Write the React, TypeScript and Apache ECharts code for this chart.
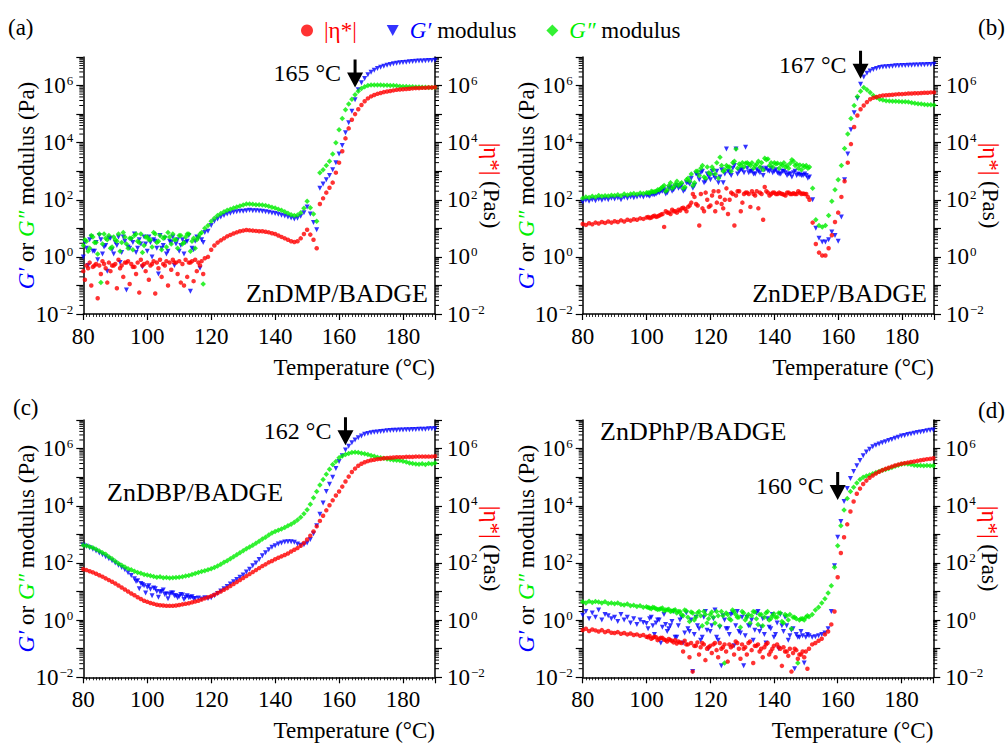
import React, { useEffect, useRef } from "react";
import * as echarts from "echarts";

// Temperatures (°C) of the read-off samples
const TEMP = [
  80, 81, 82, 83, 84, 85, 86, 87, 88, 89, 90, 91, 92, 93, 94, 95, 96, 97, 98, 99,
  100, 101, 102, 103, 104, 105, 106, 107, 108, 109, 110, 111, 112, 113, 114, 115, 116, 117, 118, 119,
  120, 121, 122, 123, 124, 125, 126, 127, 128, 129, 130, 131, 132, 133, 134, 135, 136, 137, 138, 139,
  140, 141, 142, 143, 144, 145, 146, 147, 148, 149, 150, 151, 152, 153, 154, 155, 156, 157, 158, 159,
  160, 161, 162, 163, 164, 165, 166, 167, 168, 169, 170, 171, 172, 173, 174, 175, 176, 177, 178, 179,
  180, 181, 182, 183, 184, 185, 186, 187, 188, 189, 190,
];
const TEMP_A_HALF = [
  80.5, 81.5, 82.5, 83.5, 84.5, 85.5, 86.5, 87.5, 88.5, 89.5, 90.5, 91.5, 92.5, 93.5, 94.5, 95.5, 96.5, 97.5, 98.5, 99.5,
  100.5, 101.5, 102.5, 103.5, 104.5, 105.5, 106.5, 107.5, 108.5, 109.5, 110.5, 111.5, 112.5, 113.5, 114.5, 115.5, 116.5, 117.5,
];
const TEMP_MID_HALF = [
  100.5, 101.5, 102.5, 103.5, 104.5, 105.5, 106.5, 107.5, 108.5, 109.5, 110.5, 111.5, 112.5, 113.5, 114.5, 115.5, 116.5, 117.5, 118.5, 119.5,
  120.5, 121.5, 122.5, 123.5, 124.5, 125.5, 126.5, 127.5, 128.5, 129.5, 130.5, 131.5, 132.5, 133.5, 134.5, 135.5, 136.5, 137.5, 138.5, 139.5,
  140.5, 141.5, 142.5, 143.5, 144.5, 145.5, 146.5, 147.5, 148.5, 149.5, 150.5,
];
const TEMP_C_HALF = [96.5, 97.5, 98.5, 99.5, 100.5, 101.5, 102.5, 103.5, 104.5, 105.5, 106.5, 107.5, 108.5, 109.5, 110.5, 111.5, 112.5, 113.5, 114.5];

// All values below are log10 of the plotted quantity (Pa or Pa·s)
// ---- (a) ZnDMP/BADGE
const A_GPP = [
  0.4, 0.55, 0.3, 0.7, 0.5, 0.8, 0.45, 0.65, 0.75, 0.35,
  0.6, 0.8, 0.5, 0.7, 0.3, 0.65, 0.75, 0.55, 0.8, 0.4,
  0.7, 0.6, 0.85, 0.5, 0.75, 0.65, 0.35, 0.7, 0.8, 0.6,
  0.75, 0.45, 0.7, 0.8, 0.55, 0.3, 0.7, 0.85, 1.0, 1.1,
  1.25, 1.35, 1.45, 1.52, 1.58, 1.63, 1.67, 1.71, 1.75, 1.78,
  1.82, 1.85, 1.85, 1.84, 1.83, 1.83, 1.82, 1.8, 1.77, 1.74,
  1.71, 1.67, 1.63, 1.58, 1.53, 1.48, 1.45, 1.47, 1.55, 1.7,
  1.95, 1.72, 1.5, 1.25, 2.95, 3.05, 3.2, 3.35, 3.6, 4.0,
  4.45, 4.85, 5.15, 5.35, 5.52, 5.68, 5.8, 5.9, 5.96, 6.0,
  6.02, 6.02, 6.02, 6.02, 6.01, 6.01, 6.0, 6.0, 5.99, 5.98,
  5.97, 5.97, 5.96, 5.96, 5.95, 5.95, 5.94, 5.94, 5.93, 5.93,
  5.93,
];
const A_GP = [
  0.0, 0.3, 0.6, 0.2, 0.5, 0.75, 0.1, 0.4, 0.65, 0.25,
  0.5, 0.7, 0.15, 0.55, 0.35, 0.6, 0.8, 0.3, 0.45, 0.7,
  0.2, 0.5, 0.6, 0.3, 0.75, 0.4, 0.1, 0.55, 0.7, 0.45,
  0.2, 0.6, 0.5, 0.75, 0.3, 0.55, 0.65, 0.6, 0.85, 0.9,
  1.1, 1.25, 1.33, 1.4, 1.45, 1.5, 1.53, 1.56, 1.58, 1.6,
  1.6, 1.62, 1.63, 1.62, 1.62, 1.61, 1.6, 1.58, 1.56, 1.54,
  1.52, 1.49, 1.46, 1.43, 1.4, 1.36, 1.33, 1.35, 1.42, 1.55,
  1.75, 1.5, 1.2, 0.95, 2.4, 2.55, 2.7, 2.85, 3.05, 3.3,
  3.6, 3.9, 4.35, 4.7, 5.1, 5.5, 5.85, 6.1, 6.25, 6.38,
  6.47, 6.54, 6.6, 6.64, 6.68, 6.71, 6.74, 6.76, 6.78, 6.8,
  6.81, 6.82, 6.83, 6.84, 6.85, 6.86, 6.86, 6.87, 6.88, 6.88,
  6.89,
];
const A_ETA = [
  -0.5, -0.3, -0.2, -0.35, -0.25, -0.3, -0.15, -0.4, -0.2, -0.3,
  -0.25, -0.1, -0.3, -0.2, -0.15, -0.25, -0.35, -0.2, -0.1, -0.25,
  -0.2, -0.3, -0.15, -0.2, -0.1, -0.25, -0.15, -0.2, -0.1, -0.2,
  -0.15, -0.25, -0.1, -0.2, -0.15, -0.1, -0.2, -0.15, -0.05, 0.0,
  0.25, 0.4, 0.5, 0.58, 0.65, 0.72, 0.77, 0.82, 0.86, 0.9,
  0.92, 0.94, 0.93, 0.92, 0.91, 0.9, 0.9, 0.88, 0.86, 0.83,
  0.8, 0.75, 0.7, 0.65, 0.6, 0.55, 0.52, 0.55, 0.65, 0.8,
  0.95, 0.78, 0.6, 0.3, 1.85, 2.05, 2.25, 2.42, 2.6, 2.95,
  3.3, 3.7, 4.15, 4.5, 4.8, 5.0, 5.17, 5.32, 5.45, 5.55,
  5.62, 5.67, 5.71, 5.74, 5.77, 5.79, 5.81, 5.83, 5.85, 5.86,
  5.87, 5.88, 5.89, 5.9, 5.91, 5.91, 5.92, 5.92, 5.93, 5.93,
  5.94,
];
const A_GPP_HALF = [
  0.6, 0.2, 0.75, 0.5, 0.1, -0.9, 0.8, 0.6, 0.3, 0.7,
  0.55, 0.2, 0.85, 0.45, 0.65, 0.25, 0.8, 0.5, 0.15, 0.7,
  0.6, 0.35, 0.8, 0.55, 0.25, 0.7, 0.85, 0.45, 0.6, 0.3,
  0.75, 0.5, 0.8, 0.2, 0.65, 0.6, 0.8, -0.95,
];
const A_GP_HALF = [
  0.5, -0.3, 0.7, 0.2, -0.1, 0.6, 0.35, -0.5, 0.65, 0.1,
  0.4, -0.2, 0.7, -1.16, 0.3, 0.5, 0.15, 0.6, -0.35, 0.45,
  0.7, 0.0, 0.55, -0.6, 0.3, 0.65, 0.2, 0.5, -0.3, 0.6,
  0.4, 0.1, 0.55, -1.2, 0.25, 0.7, -0.4, 0.5,
];
const A_ETA_HALF = [
  -0.8, -0.4, -1.0, -0.3, -1.45, -0.6, -0.25, -0.9, -0.5, -0.3,
  -1.1, -0.4, -0.7, -0.2, -0.95, -0.35, -0.6, -1.25, -0.3, -0.5,
  -0.8, -0.25, -1.28, -0.4, -0.7, -0.3, -1.0, -0.45, -0.2, -0.6,
  -0.9, -1.0, -0.7, -0.2, -0.85, -0.5, -0.3, -0.6,
];

// ---- (b) ZnDEP/BADGE
const B_GPP = [
  2.05, 2.1, 2.08, 2.12, 2.1, 2.15, 2.12, 2.14, 2.13, 2.16,
  2.15, 2.18, 2.14, 2.2, 2.17, 2.2, 2.22, 2.19, 2.24, 2.22,
  2.25, 2.23, 2.28, 2.3, 2.35, 2.45, 2.3, 2.5, 2.4, 2.55,
  2.5, 2.6, 2.45, 2.75, 2.9, 2.6, 3.0, 3.1, 2.8, 3.15,
  2.9, 3.05, 3.3, 3.49, 3.0, 3.2, 3.15, 3.3, 3.78, 3.25,
  3.3, 3.28, 3.25, 3.3, 3.2, 3.35, 3.3, 3.45, 3.43, 3.3,
  3.3, 3.28, 3.25, 3.3, 3.2, 3.28, 3.35, 3.25, 3.22, 3.2,
  3.2, 3.15, 2.4, 1.3, 1.1, 1.05, 1.1, 1.45, 1.95, 2.35,
  2.7, 3.2, 3.8, 4.3, 4.85, 5.3, 5.62, 5.8, 5.93, 5.85,
  5.76, 5.65, 5.58, 5.52, 5.49, 5.47, 5.46, 5.45, 5.45, 5.44,
  5.43, 5.43, 5.42, 5.4, 5.38, 5.36, 5.35, 5.34, 5.33, 5.33,
  5.32,
];
const B_GP = [
  1.92, 1.98, 1.95, 2.0, 1.97, 2.02, 1.98, 2.03, 2.0, 2.05,
  2.03, 2.06, 2.0, 2.08, 2.05, 2.1, 2.07, 2.1, 2.12, 2.1,
  2.15, 2.12, 2.18, 2.2, 2.25, 2.3, 2.2, 2.4, 2.3, 2.45,
  2.4, 2.5, 2.35, 2.6, 2.75, 2.5, 2.85, 2.95, 2.6, 2.9,
  2.7, 2.85, 3.0, 2.8, 2.6, 3.78, 2.95, 3.1, 3.78, 3.0,
  3.05, 3.84, 2.95, 3.0, 2.9, 3.0, 3.1, 3.05, 3.02, 3.1,
  3.0, 2.95, 2.9, 3.0, 2.85, 2.9, 2.95, 2.85, 2.88, 2.85,
  2.85, 2.8, 2.0, 1.0, 0.65, 0.52, 0.52, 0.6, 0.87, 0.75,
  0.55, 1.4, 2.7, 3.6, 4.45, 5.05, 5.55, 6.05, 6.3, 6.43,
  6.51, 6.56, 6.6, 6.63, 6.65, 6.66, 6.67, 6.68, 6.69, 6.69,
  6.7, 6.7, 6.71, 6.71, 6.72, 6.72, 6.73, 6.73, 6.74, 6.74,
  6.75,
];
const B_ETA = [
  1.15, 1.12, 1.18, 1.14, 1.2, 1.17, 1.22, 1.19, 1.24, 1.2,
  1.25, 1.22, 1.28, 1.24, 1.3, 1.27, 1.32, 1.3, 1.35, 1.33,
  1.38, 1.36, 1.42, 1.4, 1.45, 1.5, 1.6, 1.55, 1.65, 1.6,
  1.65, 1.7, 1.68, 1.75, 1.9, 2.1, 1.8, 2.2, 1.6, 2.0,
  1.8, 2.3, 1.9, 2.1, 1.7, 2.4, 2.0, 2.2, 2.15, 2.3,
  1.9, 2.25, 2.2, 2.3, 2.15, 1.7, 2.2, 2.45, 2.25, 2.2,
  2.25, 2.2, 2.22, 2.18, 2.25, 2.2, 2.23, 2.2, 2.25, 2.22,
  2.2, 2.0, 1.2, 0.45, 0.15, 0.05, 0.05, 0.3, 0.76, 1.22,
  1.55, 2.1, 2.65, 3.3, 3.95, 4.55, 4.95, 5.17, 5.3, 5.42,
  5.52, 5.57, 5.6, 5.63, 5.65, 5.66, 5.67, 5.68, 5.69, 5.7,
  5.7, 5.71, 5.72, 5.72, 5.73, 5.73, 5.74, 5.75, 5.75, 5.76,
  5.76,
];
const B_GPP_HALF = [
  2.25, 2.3, 2.28, 2.35, 2.4, 2.5, 2.35, 2.6, 2.45, 2.65,
  2.55, 2.4, 2.7, 2.65, 2.5, 3.0, 2.85, 3.2, 2.75, 2.95,
  3.15, 2.9, 2.75, 3.2, 3.05, 3.15, 3.0, 3.35, 3.1, 3.2,
  3.15, 3.3, 3.2, 3.1, 3.25, 3.15, 3.05, 3.4, 3.2, 3.15,
  3.25, 3.1, 3.2, 3.15, 3.1, 3.4, 3.2, 3.1, 3.05, 3.15,
  3.1,
];
const B_GP_HALF = [
  2.15, 2.2, 2.18, 2.25, 2.3, 2.35, 2.25, 2.45, 2.35, 2.5,
  2.45, 2.3, 2.6, 2.55, 2.4, 2.9, 2.7, 3.0, 2.65, 2.8,
  3.0, 2.75, 2.6, 3.05, 2.9, 3.0, 2.85, 3.2, 2.9, 3.05,
  2.95, 3.1, 3.0, 2.9, 3.05, 2.95, 2.85, 3.1, 3.0, 2.95,
  3.05, 2.9, 3.0, 2.95, 2.9, 2.8, 3.0, 2.9, 2.85, 2.9,
  2.75,
];
const B_ETA_HALF = [
  1.4, 1.38, 1.44, 1.42, 1.48, 1.05, 1.55, 1.5, 1.6, 1.55,
  1.62, 1.72, 1.6, 1.8, 2.2, 1.85, 1.1, 1.7, 2.25, 1.75,
  2.15, 1.6, 2.3, 1.85, 2.0, 1.5, 2.25, 1.1, 2.3, 1.6,
  2.2, 2.25, 1.75, 2.2, 2.3, 2.25, 1.3, 2.3, 2.15, 2.25,
  2.2, 2.25, 2.2, 2.15, 2.25, 2.2, 2.2, 2.3, 2.2, 2.2,
  2.1,
];

// ---- (c) ZnDBP/BADGE
const C_GPP = [
  2.62, 2.6, 2.57, 2.53, 2.48, 2.42, 2.36, 2.3, 2.22, 2.15,
  2.06, 1.98, 1.92, 1.86, 1.8, 1.76, 1.71, 1.67, 1.64, 1.6,
  1.58, 1.55, 1.53, 1.5, 1.52, 1.48, 1.49, 1.47, 1.48, 1.49,
  1.5, 1.52, 1.54, 1.56, 1.6, 1.63, 1.67, 1.7, 1.73, 1.76,
  1.8, 1.84, 1.89, 1.95, 2.02, 2.08, 2.15, 2.22, 2.29, 2.36,
  2.43, 2.5, 2.56, 2.62, 2.69, 2.76, 2.84, 2.9, 2.98, 3.05,
  3.1, 3.14, 3.19, 3.24, 3.3, 3.35, 3.42, 3.5, 3.6, 3.72,
  3.86, 4.05, 4.28, 4.5, 4.73, 4.92, 5.1, 5.28, 5.44, 5.55,
  5.68, 5.74, 5.79, 5.83, 5.86, 5.87, 5.86, 5.84, 5.82, 5.79,
  5.76, 5.73, 5.7, 5.68, 5.66, 5.64, 5.62, 5.6, 5.59, 5.58,
  5.56, 5.53, 5.5, 5.48, 5.46, 5.45, 5.47, 5.44, 5.48, 5.46,
  5.5,
];
const C_GP = [
  2.62, 2.58, 2.53, 2.48, 2.42, 2.35, 2.29, 2.22, 2.15, 2.08,
  2.0, 1.92, 1.84, 1.76, 1.66, 1.56, 1.45, 1.38, 1.28, 1.2,
  1.15, 1.08, 1.12, 1.0, 0.98, 1.05, 0.92, 0.9, 0.95, 0.85,
  0.83, 0.88, 0.8, 0.78, 0.82, 0.76, 0.77, 0.74, 0.78, 0.76,
  0.78, 0.85, 0.93, 1.02, 1.1, 1.18, 1.26, 1.34, 1.42, 1.5,
  1.58, 1.68, 1.78, 1.9, 2.0, 2.12, 2.25, 2.36, 2.46, 2.55,
  2.6, 2.66, 2.7, 2.73, 2.74, 2.74, 2.72, 2.66, 2.62, 2.64,
  2.7, 2.82, 3.02, 3.3, 3.7, 4.1, 4.5, 4.75, 5.0, 5.3,
  5.55, 5.75, 5.95, 6.08, 6.2, 6.3, 6.38, 6.44, 6.5, 6.53,
  6.55, 6.57, 6.58, 6.6, 6.61, 6.62, 6.63, 6.64, 6.64, 6.65,
  6.65, 6.66, 6.66, 6.67, 6.67, 6.68, 6.68, 6.68, 6.69, 6.69,
  6.69,
];
const C_ETA = [
  1.78, 1.75, 1.71, 1.67, 1.62, 1.57, 1.52, 1.46, 1.4, 1.34,
  1.28, 1.21, 1.14, 1.07, 1.0, 0.93, 0.87, 0.8, 0.74, 0.68,
  0.64, 0.6, 0.57, 0.54, 0.52, 0.51, 0.5, 0.5, 0.5, 0.51,
  0.53, 0.55, 0.57, 0.59, 0.62, 0.65, 0.68, 0.72, 0.76, 0.8,
  0.84, 0.89, 0.95, 1.0, 1.06, 1.12, 1.19, 1.26, 1.33, 1.4,
  1.47, 1.54, 1.61, 1.68, 1.75, 1.82, 1.89, 1.95, 2.02, 2.07,
  2.13, 2.18, 2.23, 2.28, 2.33, 2.4, 2.46, 2.52, 2.6, 2.7,
  2.82, 2.95, 3.1, 3.28, 3.47, 3.65, 3.84, 4.02, 4.19, 4.36,
  4.5, 4.67, 4.85, 5.02, 5.18, 5.3, 5.4, 5.47, 5.52, 5.56,
  5.59, 5.61, 5.63, 5.64, 5.66, 5.67, 5.68, 5.69, 5.7, 5.7,
  5.7, 5.71, 5.71, 5.71, 5.72, 5.72, 5.72, 5.72, 5.72, 5.72,
  5.73,
];
const C_GP_HALF = [1.35, 1.1, 1.25, 0.95, 1.2, 0.85, 1.1, 0.8, 1.0, 0.9, 0.75, 0.95, 0.85, 0.78, 0.9, 0.72, 0.85, 0.8, 0.75];

// ---- (d) ZnDPhP/BADGE
const D_GPP = [
  0.64, 0.6, 0.66, 0.62, 0.65, 0.63, 0.6, 0.64, 0.58, 0.6,
  0.57, 0.6, 0.55, 0.53, 0.56, 0.5, 0.52, 0.48, 0.5, 0.45,
  0.47, 0.42, 0.45, 0.4, 0.38, 0.42, 0.35, 0.38, 0.32, 0.36,
  0.3, 0.2, 0.35, 0.1, 0.28, 0.0, 0.25, 0.15, 0.3, -0.1,
  0.2, 0.1, 0.3, -0.2, 0.15, 0.25, 0.05, 0.35, 0.2, 0.1,
  0.3, 0.0, 0.2, 0.15, 0.28, -0.15, 0.2, 0.1, 0.3, 0.05,
  0.22, 0.1, 0.25, -0.1, 0.15, 0.2, 0.1, 0.05, 0.0, 0.05,
  0.1, 0.12, 0.2, 0.35, 0.45, 0.6, 0.75, 0.95, 1.2, 1.85,
  2.6, 3.3, 3.85, 4.25, 4.5, 4.65, 4.8, 4.92, 5.0, 5.04,
  5.08, 5.12, 5.16, 5.2, 5.24, 5.27, 5.3, 5.34, 5.38, 5.42,
  5.45, 5.47, 5.46, 5.44, 5.42, 5.41, 5.41, 5.4, 5.41, 5.4,
  5.4,
];
const D_GP = [
  0.17, 0.3, 0.05, 0.25, 0.1, 0.35, 0.0, 0.2, 0.15, 0.05,
  0.1, -0.05, 0.2, 0.0, 0.1, -0.1, 0.05, -0.15, 0.0, -0.08,
  -0.12, 0.05, -0.2, -0.1, 0.0, -0.25, -0.15, -0.3, -0.05, -0.6,
  -0.2, 0.1, -0.45, -0.3, 0.0, -0.5, -0.2, -0.7, 0.1, -0.35,
  -0.4, 0.05, -0.6, -0.25, 0.15, -0.3, -0.5, 0.25, -0.2, -0.4,
  0.1, -0.55, -0.2, 0.0, -0.35, 0.3, -0.25, -0.5, 0.05, -0.3,
  -0.6, -0.1, 0.2, -0.4, -0.2, -0.55, -0.3, -0.5, -0.6, -0.55,
  -0.6, -0.55, -0.6, -0.58, -0.55, -0.5, -0.45, -0.3, 0.3, 1.9,
  2.9, 3.45, 4.15, 4.6, 4.95, 5.2, 5.4, 5.58, 5.75, 5.88,
  5.98, 6.06, 6.12, 6.16, 6.2, 6.24, 6.28, 6.32, 6.36, 6.4,
  6.44, 6.46, 6.49, 6.51, 6.54, 6.56, 6.58, 6.6, 6.62, 6.64,
  6.65,
];
const D_ETA = [
  -0.35, -0.3, -0.38, -0.33, -0.36, -0.4, -0.35, -0.42, -0.38, -0.44,
  -0.45, -0.42, -0.48, -0.45, -0.5, -0.47, -0.52, -0.5, -0.55, -0.52,
  -0.58, -0.55, -0.62, -0.6, -0.65, -0.62, -0.7, -0.66, -0.72, -0.7,
  -0.75, -0.8, -0.72, -0.85, -0.8, -0.9, -0.78, -0.95, -0.85, -1.0,
  -0.9, -0.85, -1.05, -0.8, -0.95, -1.1, -0.85, -0.9, -0.75, -1.0,
  -0.85, -0.95, -0.8, -1.05, -0.9, -0.85, -1.0, -0.95, -0.8, -1.1,
  -0.9, -0.85, -1.0, -0.95, -1.1, -1.0, -1.15, -1.05, -1.2, -1.1,
  -1.1, -1.0, -0.85, -0.8, -0.72, -0.65, -0.5, -0.4, -0.15, 0.3,
  1.5, 2.35, 2.9, 3.35, 3.8, 4.15, 4.42, 4.6, 4.76, 4.88,
  4.98, 5.06, 5.13, 5.19, 5.24, 5.29, 5.33, 5.37, 5.41, 5.44,
  5.47, 5.49, 5.51, 5.53, 5.55, 5.57, 5.59, 5.61, 5.63, 5.64,
  5.66,
];
const D_GPP_HALF = [
  0.44, 0.4, 0.43, 0.37, 0.4, 0.33, 0.36, 0.3, 0.34, 0.25,
  0.3, 0.15, 0.32, -0.05, 0.25, 0.1, 0.3, -0.2, 0.2, 0.05,
  0.28, -0.1, 0.15, 0.3, -1.5, 0.2, 0.0, 0.3, 0.1, -0.25,
  0.25, 0.1, -0.1, 0.3, 0.05, 0.2, -0.2, 0.25, 0.0, 0.15,
  0.1, 0.25, -0.05, 0.2, 0.0, -0.3, 0.1, -1.5, 0.05, 0.0,
  0.15,
];
const D_GP_HALF = [
  -0.3, 0.1, -0.5, 0.0, -0.8, 0.2, -0.4, -0.2, 0.3, -0.6,
  0.0, -0.8, 0.25, -0.4, -1.8, 0.1, -0.3, -0.6, 0.3, -1.0,
  -0.2, 0.35, -0.7, -1.6, 0.0, -0.3, 0.2, -0.9, 0.3, -0.45,
  -1.6, 0.1, -0.2, -0.7, 0.25, -0.4, 0.05, -0.8, -0.25, 0.2,
  -0.5, -1.0, -0.2, 0.1, -0.7, -0.35, -1.7, -0.6, -0.4, -1.5,
  -0.5,
];
const D_ETA_HALF = [
  -0.6, -0.65, -0.58, -0.7, -0.62, -0.68, -0.75, -0.7, -0.78, -0.82,
  -0.78, -1.1, -0.85, -1.3, -1.8, -0.9, -1.2, -0.8, -1.4, -0.95,
  -1.15, -0.8, -1.3, -1.0, -0.85, -1.45, -0.95, -1.2, -0.8, -1.35,
  -1.0, -1.2, -0.75, -1.5, -0.9, -1.1, -1.3, -0.85, -1.2, -1.0,
  -1.3, -0.95, -1.6, -1.1, -1.25, -1.8, -1.0, -1.35, -1.2, -1.3,
  -1.7,
];

const SAMPLES = ["ZnDMP/BADGE", "ZnDEP/BADGE", "ZnDBP/BADGE", "ZnDPhP/BADGE"];
const TAGS = ["(a)", "(b)", "(c)", "(d)"];
const ONSETS = [165, 167, 162, 160];
const ONSET_LABELS = ["165 °C", "167 °C", "162 °C", "160 °C"];
const X_MIN = 80;
const X_MAX = 190;

const FONT = "'Liberation Serif', serif";
const FS = 23;
const RED = "#ff0000";
const BLUE = "#0000ff";
const GREEN = "#00ee00";

type Panel = {
  eta: number[]; gp: number[]; gpp: number[];
  half: number[]; etaH: number[]; gpH: number[]; gppH: number[];
  arrowV: number; sampleX: number; sampleY: number; sampleAlign: string;
  tagX: number; tagY: number;
};

const PANELS: Panel[] = [
  { eta: A_ETA, gp: A_GP, gpp: A_GPP, half: TEMP_A_HALF, etaH: A_ETA_HALF, gpH: A_GP_HALF, gppH: A_GPP_HALF,
    arrowV: 2.66e6, sampleX: 428, sampleY: 293, sampleAlign: "right", tagX: 8, tagY: 27 },
  { eta: B_ETA, gp: B_GP, gpp: B_GPP, half: TEMP_MID_HALF, etaH: B_ETA_HALF, gpH: B_GP_HALF, gppH: B_GPP_HALF,
    arrowV: 5.4e6, sampleX: 927, sampleY: 293, sampleAlign: "right", tagX: 978, tagY: 27 },
  { eta: C_ETA, gp: C_GP, gpp: C_GPP, half: TEMP_C_HALF, etaH: [], gpH: C_GP_HALF, gppH: [],
    arrowV: 4.07e6, sampleX: 107, sampleY: 492, sampleAlign: "left", tagX: 13, tagY: 407 },
  { eta: D_ETA, gp: D_GP, gpp: D_GPP, half: TEMP_MID_HALF, etaH: D_ETA_HALF, gpH: D_GP_HALF, gppH: D_GPP_HALF,
    arrowV: 4.9e4, sampleX: 600, sampleY: 431, sampleAlign: "left", tagX: 978, tagY: 410 },
];

const GRIDS = [
  { left: 83.3, top: 57, width: 351.7, height: 257 },
  { left: 582.7, top: 57, width: 351.3, height: 257 },
  { left: 83.3, top: 420, width: 351.7, height: 257.3 },
  { left: 582.7, top: 420, width: 350.6, height: 257.3 },
];

const MINOR_MULT = [2, 3, 4, 5, 6, 7, 8, 9];
const DECADES = [-2, -1, 0, 1, 2, 3, 4, 5, 6];

function toPts(xs: number[], logs: number[]) {
  const out: number[][] = [];
  const n = Math.min(xs.length, logs.length);
  for (let i = 0; i < n; i++) {
    if (logs[i] != null) out.push([xs[i], Math.pow(10, logs[i])]);
  }
  return out;
}

const ARROW = "path://M6.5,0L9.5,0L9.5,13L16,13L8,28L0,13L6.5,13Z";
const TRI_DOWN = "path://M0,0L10,0L5,9Z";

function logLabel(val: number) {
  const e = Math.round(Math.log10(val));
  if (e % 2 !== 0 || e > 6) return "";
  return "10{e|" + (e < 0 ? "\u2212" + -e : String(e)) + "}";
}

const axisText = { fontFamily: FONT, fontSize: FS, color: "#000" };
const supRich = { e: { fontFamily: FONT, fontSize: 13, color: "#000", verticalAlign: "top", lineHeight: 13, padding: [0, 0, 0, 1] } };

function buildOption() {
  const minorVals: number[] = [];
  DECADES.forEach((d) => MINOR_MULT.forEach((m) => minorVals.push(m * Math.pow(10, d))));

  const xAxis: any[] = [];
  const yAxis: any[] = [];
  const series: any[] = [];
  const graphic: any[] = [];

  PANELS.forEach((p, i) => {
    xAxis.push({
      gridIndex: i, type: "value", min: X_MIN, max: X_MAX, interval: 20,
      name: "Temperature (°C)", nameLocation: "end", nameGap: 0, nameMoveOverlap: false,
      nameTextStyle: { ...axisText, align: "right", verticalAlign: "top", padding: [42, 0, 0, 0] },
      axisLine: { show: true, onZero: false, lineStyle: { color: "#000", width: 1.5 } },
      axisTick: { show: true, inside: false, length: 6, lineStyle: { color: "#000", width: 1.2 } },
      minorTick: { show: true, splitNumber: 20, length: 3, lineStyle: { color: "#000", width: 0.8 } },
      splitLine: { show: false },
      axisLabel: { ...axisText, margin: 11, showMaxLabel: false },
    });
    const yCommon = {
      gridIndex: i, type: "log", logBase: 10, min: 0.01, max: 1e7,
      axisLine: { show: true, onZero: false, lineStyle: { color: "#000", width: 1.5 } },
      axisTick: { show: true, inside: false, length: 7, lineStyle: { color: "#000", width: 1.2 } },
      minorTick: { show: false },
      splitLine: { show: false },
      nameLocation: "middle",
      nameMoveOverlap: false,
    };
    yAxis.push({
      ...yCommon, position: "left", nameGap: 45,
      axisLabel: { ...axisText, margin: 10, formatter: logLabel, rich: supRich },
      name: "{b|G\u2032} or {g|G\u2033} modulus (Pa)", nameRotate: 90,
      nameTextStyle: {
        ...axisText,
        rich: {
          b: { ...axisText, color: BLUE, fontStyle: "italic" },
          g: { ...axisText, color: GREEN, fontStyle: "italic" },
        },
      },
    });
    yAxis.push({
      ...yCommon, position: "right", nameGap: 45,
      axisLabel: { ...axisText, margin: 12, formatter: logLabel, rich: supRich },
      name: "{r||\u03b7*|} (Pas)", nameRotate: -90,
      nameTextStyle: { ...axisText, rich: { r: { ...axisText, color: RED } } },
    });

    series.push({
      type: "custom", name: "ticks", xAxisIndex: i, yAxisIndex: 2 * i, silent: true, clip: false, z: 1,
      data: minorVals.map((v) => [X_MIN, v]),
      encode: { x: 0, y: 1 },
      renderItem: (_params: any, api: any) => {
        const v = api.value(1);
        const l = api.coord([X_MIN, v]);
        const r = api.coord([X_MAX, v]);
        return {
          type: "group",
          children: [
            { type: "line", shape: { x1: l[0] - 4, y1: l[1], x2: l[0], y2: l[1] }, style: { stroke: "#000", lineWidth: 1 } },
            { type: "line", shape: { x1: r[0], y1: r[1], x2: r[0] + 4, y2: r[1] }, style: { stroke: "#000", lineWidth: 1 } },
          ],
        };
      },
    });
    series.push({
      type: "scatter", name: "gp", xAxisIndex: i, yAxisIndex: 2 * i,
      symbol: "triangle", symbolRotate: 180, symbolSize: 5,
      itemStyle: { color: BLUE }, z: 3,
      data: toPts(TEMP, p.gp).concat(toPts(p.half, p.gpH)),
      markPoint: {
        silent: true, animation: false,
        data: [{
          coord: [ONSETS[i], p.arrowV], symbol: ARROW, symbolSize: [16, 28], symbolKeepAspect: false,
          itemStyle: { color: "#000" },
          label: { show: true, position: "left", distance: 6, formatter: ONSET_LABELS[i], fontFamily: FONT, fontSize: 24, color: "#000" },
        }],
      },
    });
    series.push({
      type: "scatter", name: "gpp", xAxisIndex: i, yAxisIndex: 2 * i,
      symbol: "diamond", symbolSize: 5.5, itemStyle: { color: GREEN }, z: 4,
      data: toPts(TEMP, p.gpp).concat(toPts(p.half, p.gppH)),
    });
    series.push({
      type: "scatter", name: "eta", xAxisIndex: i, yAxisIndex: 2 * i + 1,
      symbol: "circle", symbolSize: 4.5, itemStyle: { color: RED }, z: 5,
      data: toPts(TEMP, p.eta).concat(toPts(p.half, p.etaH)),
    });

    graphic.push({
      type: "text", x: p.tagX, y: p.tagY,
      style: { text: TAGS[i], fontFamily: FONT, fontSize: FS, fill: "#000", align: "left", verticalAlign: "middle" },
    });
    graphic.push({
      type: "text", x: p.sampleX, y: p.sampleY, z: 10,
      style: { text: SAMPLES[i], fontFamily: FONT, fontSize: 26, fill: "#000", align: p.sampleAlign, verticalAlign: "middle" },
    });
  });

  const legendNames: Record<string, string> = {
    eta: "{r||\u03b7*|}",
    gp: "{b|G\u2032} modulus",
    gpp: "{g|G\u2033} modulus",
  };

  return {
    animation: false,
    backgroundColor: "#ffffff",
    textStyle: { fontFamily: FONT },
    legend: {
      data: [
        { name: "eta", icon: "circle" },
        { name: "gp", icon: TRI_DOWN },
        { name: "gpp", icon: "diamond" },
      ],
      left: 296, top: 14, itemGap: 30, itemWidth: 12, itemHeight: 12,
      selectedMode: false,
      formatter: (n: string) => legendNames[n],
      textStyle: {
        ...axisText, padding: [0, 0, 0, 6],
        rich: {
          r: { ...axisText, color: RED },
          b: { ...axisText, color: BLUE, fontStyle: "italic" },
          g: { ...axisText, color: GREEN, fontStyle: "italic" },
        },
      },
    },
    grid: GRIDS.map((g) => ({ ...g, containLabel: false })),
    xAxis, yAxis, series, graphic,
  };
}

export default function App() {
  const ref = useRef<HTMLDivElement>(null);
  useEffect(() => {
    const chart = echarts.init(ref.current as HTMLDivElement, null, { renderer: "svg" });
    chart.setOption(buildOption() as any);
    return () => chart.dispose();
  }, []);
  return (
    <div
      ref={ref}
      style={{ position: "fixed", left: 0, top: 0, width: 1007, height: 745, background: "#fff" }}
    />
  );
}
